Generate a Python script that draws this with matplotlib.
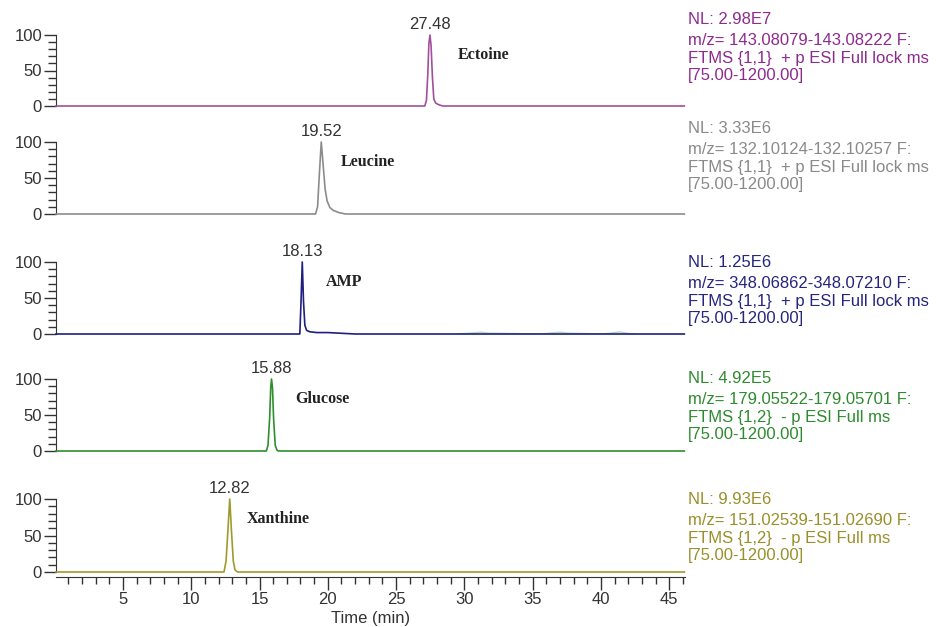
import matplotlib
matplotlib.use("Agg")
import matplotlib.pyplot as plt
from matplotlib.ticker import MultipleLocator, FixedLocator

plt.rcParams["font.family"] = ["Liberation Sans", "DejaVu Sans"]

# ---------- extracted ion chromatograms: time (min) / relative abundance (%) ----------
ectoine_t = [0.1, 27.10, 27.22, 27.32, 27.40, 27.48, 27.56, 27.66, 27.76, 27.90, 28.10, 28.40, 46.1]
ectoine_i = [0, 0, 8, 45, 88, 100, 85, 40, 10, 4, 2, 0, 0]

leucine_t = [0.1, 19.10, 19.25, 19.38, 19.52, 19.65, 19.80, 19.95, 20.15, 20.40, 20.80, 21.30, 46.1]
leucine_i = [0, 0, 10, 55, 100, 70, 35, 18, 9, 5, 2, 0, 0]

amp_t = [0.1, 17.95, 18.03, 18.13, 18.22, 18.32, 18.45, 18.70, 19.20, 20.00, 21.00, 22.00, 46.1]
amp_i = [0, 0, 40, 100, 45, 12, 5, 3, 2, 2, 1, 0, 0]
# faint co-eluting traces in the AMP window
amp_minor_t = [29.5, 30.6, 31.2, 31.8, 35.6, 36.4, 37.0, 37.6, 40.2, 40.9, 41.4, 41.9, 42.5]
amp_minor_i = [0, 1.5, 2.5, 1.2, 0, 1.5, 2.5, 1.2, 0, 1.8, 2.8, 1.0, 0]

glucose_t = [0.1, 15.50, 15.62, 15.74, 15.82, 15.88, 15.95, 16.03, 16.15, 16.28, 16.40, 46.1]
glucose_i = [0, 0, 8, 45, 88, 100, 88, 45, 8, 1, 0, 0]

xanthine_t = [0.1, 12.40, 12.55, 12.68, 12.82, 12.95, 13.08, 13.20, 13.40, 46.1]
xanthine_i = [0, 0, 15, 55, 100, 55, 15, 3, 0, 0]

compounds = ["Ectoine", "Leucine", "AMP", "Glucose", "Xanthine"]
peak_rt = [27.48, 19.52, 18.13, 15.88, 12.82]
nl_values = ["2.98E7", "3.33E6", "1.25E6", "4.92E5", "9.93E6"]
mz_ranges = ["143.08079-143.08222", "132.10124-132.10257", "348.06862-348.07210",
             "179.05522-179.05701", "151.02539-151.02690"]
scan_filters = ["FTMS {1,1}  + p ESI Full lock ms", "FTMS {1,1}  + p ESI Full lock ms",
                "FTMS {1,1}  + p ESI Full lock ms", "FTMS {1,2}  - p ESI Full ms",
                "FTMS {1,2}  - p ESI Full ms"]
scan_range = "[75.00-1200.00]"

traces = [(ectoine_t, ectoine_i), (leucine_t, leucine_i), (amp_t, amp_i),
          (glucose_t, glucose_i), (xanthine_t, xanthine_i)]

# ---------- style / layout ----------
line_colors = ["#a0509c", "#8c8c8c", "#1f1f80", "#2f8f2f", "#a09a2e"]
text_colors = ["#8e2a8e", "#8a8a8a", "#25257e", "#2e8a2e", "#9a8f2a"]
W, H = 936, 627
ax_left, ax_right = 56, 685
panel_top = [35, 142, 262, 379, 499]     # pixel row of 100 %
panel_zero = [106, 214, 334, 451, 572]   # pixel row of 0 %
header_y = [24, 133, 267, 383, 504]      # baseline row of the "NL:" line
header_dy = [0, 21, 39, 56]              # row offsets of the four header lines
name_dx = [2.0, 1.4, 1.7, 1.7, 1.25]     # compound label offset from peak (min)
ink = "#333333"

fig = plt.figure(figsize=(W / 100, H / 100), dpi=100)

for k in range(5):
    last = (k == 4)
    top, zero = panel_top[k], panel_zero[k]
    bottom = zero + 5 if last else zero
    ax = fig.add_axes([ax_left / W, 1 - bottom / H, (ax_right - ax_left) / W, (bottom - top) / H])
    ymin = -100 * (bottom - zero) / (zero - top)
    ax.set_ylim(ymin, 100)
    ax.set_xlim(0.1, 46.15)

    t, inten = traces[k]
    ax.plot(t, inten, color=line_colors[k], lw=1.2, clip_on=False, zorder=3)
    if k == 2:
        ax.plot(amp_minor_t, amp_minor_i, color="#7fc47f", lw=1.0, alpha=0.6, zorder=2)

    # retention-time label above the apex and compound name beside it
    ax.annotate(f"{peak_rt[k]:.2f}", xy=(peak_rt[k], 100), xytext=(0, 2),
                textcoords="offset points", ha="center", va="bottom",
                fontsize=12, color=ink, annotation_clip=False)
    ax.text(peak_rt[k] + name_dx[k], 72, compounds[k], family="Liberation Serif",
            fontweight="bold", fontsize=11.5, color="#222222", va="center", ha="left")

    for side in ["top", "right"]:
        ax.spines[side].set_visible(False)
    ax.spines["left"].set_bounds(0, 100)
    ax.spines["left"].set_color(ink)
    ax.yaxis.set_major_locator(FixedLocator([0, 50, 100]))
    ax.yaxis.set_minor_locator(FixedLocator(range(0, 101, 10)))
    ax.tick_params(axis="y", which="major", length=9, width=1, color=ink,
                   labelsize=12, labelcolor=ink, pad=1)
    ax.tick_params(axis="y", which="minor", length=6, width=1, color=ink)

    if last:
        ax.spines["bottom"].set_color(ink)
        ax.xaxis.set_major_locator(MultipleLocator(5))
        ax.xaxis.set_minor_locator(MultipleLocator(1))
        ax.tick_params(axis="x", which="major", length=9, width=1, color=ink,
                       labelsize=12, labelcolor=ink, pad=2)
        ax.tick_params(axis="x", which="minor", length=5, width=1, color=ink)
        ax.set_xlabel("Time (min)", fontsize=12, color=ink, labelpad=3)
    else:
        ax.spines["bottom"].set_visible(False)
        ax.set_xticks([])

    # scan header: normalisation level, m/z window and filter
    lines = [f"NL: {nl_values[k]}", f"m/z= {mz_ranges[k]} F:", scan_filters[k], scan_range]
    for line, dy in zip(lines, header_dy):
        fig.text(688 / W, 1 - (header_y[k] + dy) / H, line, ha="left", va="baseline",
                 fontsize=12, color=text_colors[k])

plt.savefig("out.png", dpi=100)
